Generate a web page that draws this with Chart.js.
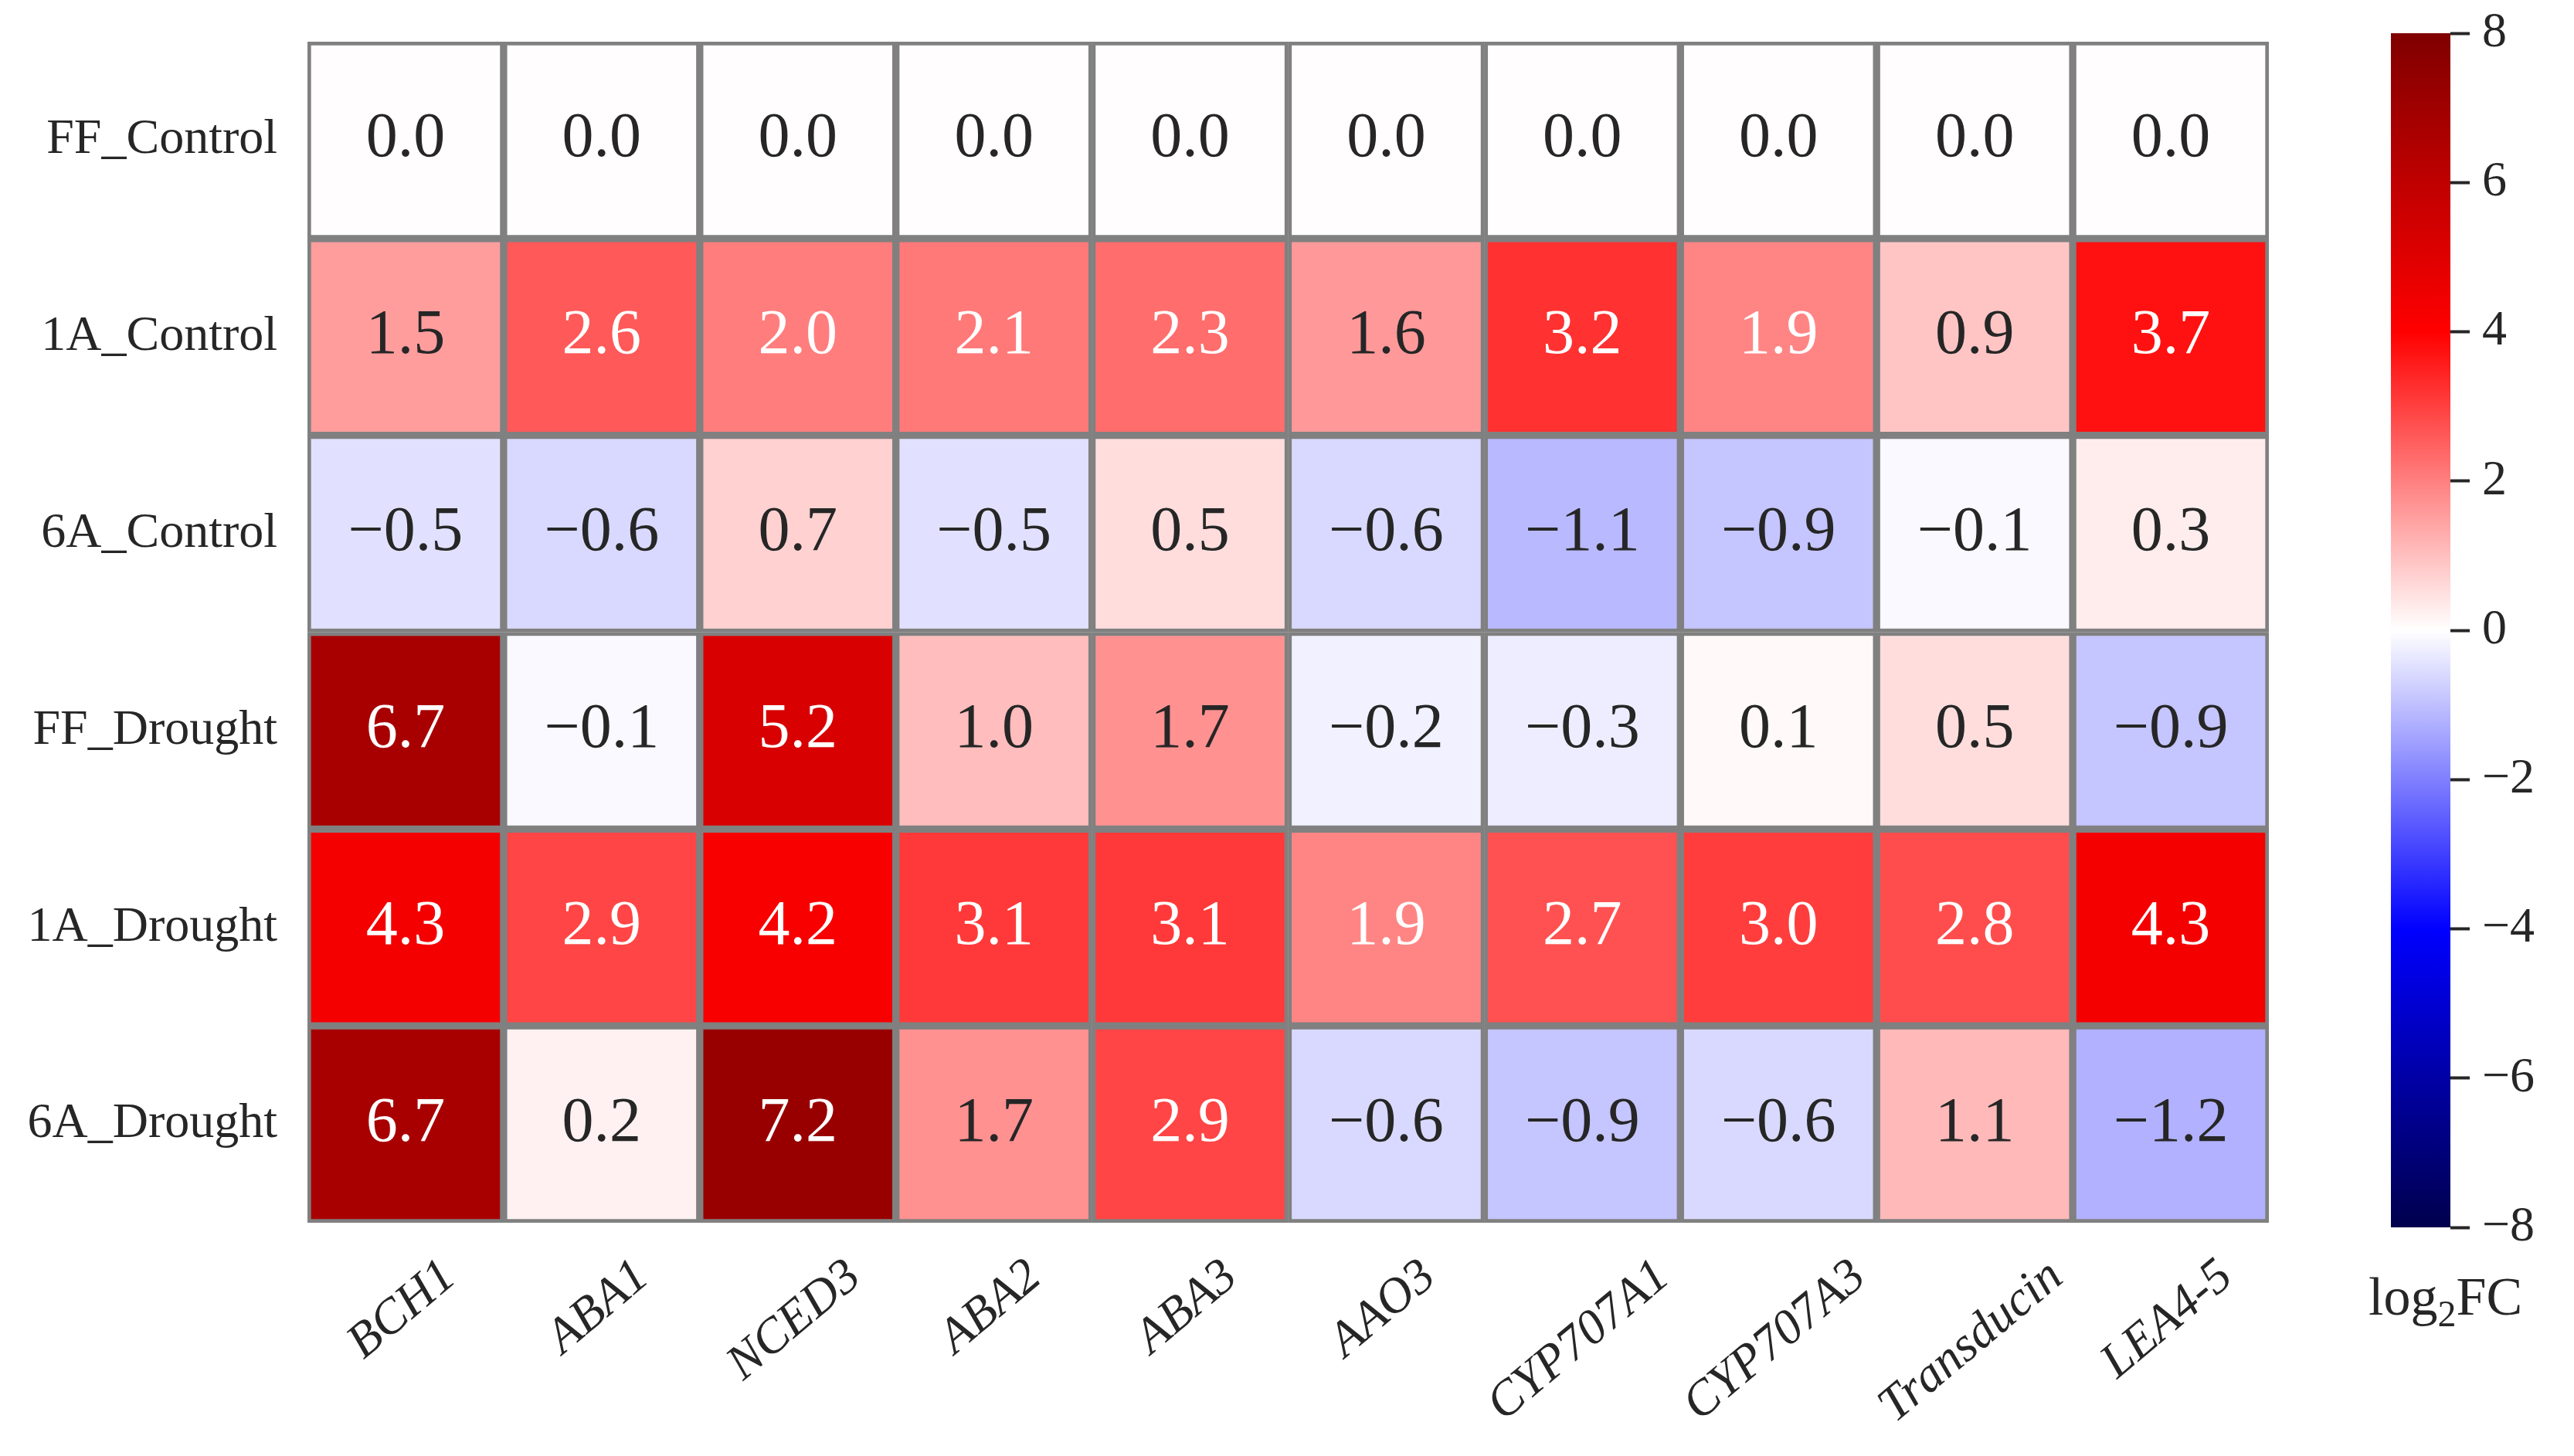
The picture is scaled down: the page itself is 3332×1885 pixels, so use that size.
<!DOCTYPE html>
<html>
<head>
<meta charset="utf-8">
<script src="https://cdn.jsdelivr.net/npm/chart.js@4.4.1/dist/chart.umd.min.js"></script>
<style>
  html, body { margin: 0; padding: 0; background: #ffffff; }
  #wrap { position: relative; width: 3332px; height: 1885px; }
  #main { position: absolute; left: 0; top: 0; }
  #cbar { position: absolute; left: 3000px; top: 0; }
</style>
</head>
<body>
<div id="wrap">
  <canvas id="main" width="3332" height="1885"></canvas>
  <canvas id="cbar" width="332" height="1885"></canvas>
</div>
<script>
// ---------------- data ----------------
const rowLabels = ['FF_Control', '1A_Control', '6A_Control', 'FF_Drought', '1A_Drought', '6A_Drought'];
const geneLabels = ['BCH1', 'ABA1', 'NCED3', 'ABA2', 'ABA3', 'AAO3', 'CYP707A1', 'CYP707A3', 'Transducin', 'LEA4-5'];

const ffControl = [0.0, 0.0, 0.0, 0.0, 0.0, 0.0, 0.0, 0.0, 0.0, 0.0];
const a1Control = [1.5, 2.6, 2.0, 2.1, 2.3, 1.6, 3.2, 1.9, 0.9, 3.7];
const a6Control = [-0.5, -0.6, 0.7, -0.5, 0.5, -0.6, -1.1, -0.9, -0.1, 0.3];
const ffDrought = [6.7, -0.1, 5.2, 1.0, 1.7, -0.2, -0.3, 0.1, 0.5, -0.9];
const a1Drought = [4.3, 2.9, 4.2, 3.1, 3.1, 1.9, 2.7, 3.0, 2.8, 4.3];
const a6Drought = [6.7, 0.2, 7.2, 1.7, 2.9, -0.6, -0.9, -0.6, 1.1, -1.2];

const rowValues = [ffControl, a1Control, a6Control, ffDrought, a1Drought, a6Drought];
const colorbarTicks = [-8, -6, -4, -2, 0, 2, 4, 6, 8];
const vmin = -8, vmax = 8;

// ---------------- colormap (matplotlib "seismic") ----------------
const seismicStops = [
  [0.0, [0, 0, 0.3]],
  [0.25, [0, 0, 1]],
  [0.5, [1, 1, 1]],
  [0.75, [1, 0, 0]],
  [1.0, [0.5, 0, 0]]
];
function seismicRGB(t) {
  const idx = Math.min(255, Math.max(0, Math.floor(t * 256)));
  const s = idx / 255;
  for (let k = 0; k < seismicStops.length - 1; k++) {
    const [a, ca] = seismicStops[k];
    const [b, cb] = seismicStops[k + 1];
    if (s >= a && s <= b) {
      const f = (s - a) / (b - a);
      return [0, 1, 2].map(c => ca[c] + (cb[c] - ca[c]) * f);
    }
  }
  return seismicStops[seismicStops.length - 1][1];
}
function toCss(rgb) {
  return 'rgb(' + rgb.map(c => Math.round(c * 255)).join(',') + ')';
}
function valueRGB(v) { return seismicRGB((v - vmin) / (vmax - vmin)); }
function luminance(rgb) {
  const lin = rgb.map(c => c <= 0.03928 ? c / 12.92 : Math.pow((c + 0.055) / 1.055, 2.4));
  return 0.2126 * lin[0] + 0.7152 * lin[1] + 0.0722 * lin[2];
}
function fmt(v) {
  const s = Math.abs(v).toFixed(1);
  return v < 0 ? '\u2212' + s : s;
}

const TEXT = '#262626';
const SERIF = '"Liberation Serif", "Times New Roman", serif';

// ---------------- main heatmap ----------------
const datasets = rowLabels.map((r, i) => ({
  label: r,
  data: geneLabels.map(() => [i, i + 1]),
  values: rowValues[i],
  backgroundColor: rowValues[i].map(v => toCss(valueRGB(v))),
  borderColor: '#808080',
  borderWidth: 5,
  borderSkipped: false,
  barPercentage: 1.0,
  categoryPercentage: 1.0,
  grouped: false
}));

const annotatePlugin = {
  id: 'annotate',
  afterDatasetsDraw(chart) {
    const ctx = chart.ctx;
    ctx.save();
    ctx.font = '82px ' + SERIF;
    ctx.textAlign = 'center';
    ctx.textBaseline = 'alphabetic';
    chart.data.datasets.forEach((ds, di) => {
      const meta = chart.getDatasetMeta(di);
      meta.data.forEach((el, j) => {
        const v = ds.values[j];
        const lum = luminance(valueRGB(v));
        ctx.fillStyle = lum > 0.408 ? TEXT : '#ffffff';
        const c = el.getCenterPoint();
        ctx.fillText(fmt(v), c.x, c.y + 21);
      });
    });
    ctx.restore();
  },
  afterDraw(chart) {
    const ctx = chart.ctx;
    const xs = chart.scales.x;
    const th = 40 * Math.PI / 180;
    const fs = 64;
    const h = fs * 0.9;
    ctx.save();
    ctx.font = 'italic ' + fs + 'px ' + SERIF;
    ctx.fillStyle = TEXT;
    ctx.textAlign = 'center';
    ctx.textBaseline = 'middle';
    geneLabels.forEach((lab, i) => {
      const x = xs.getPixelForValue(i);
      const w = ctx.measureText(lab).width;
      const bh = w * Math.sin(th) + h * Math.cos(th);
      const cy = chart.chartArea.bottom + 40 + bh / 2;
      ctx.save();
      ctx.translate(x - 4, cy);
      ctx.rotate(-th);
      ctx.fillText(lab, 0, 0);
      ctx.restore();
    });
    ctx.restore();
  }
};

new Chart(document.getElementById('main'), {
  type: 'bar',
  data: { labels: geneLabels, datasets },
  options: {
    responsive: false,
    animation: false,
    devicePixelRatio: 1,
    layout: { padding: { left: 0, top: 54, right: 395, bottom: 0 } },
    plugins: { legend: { display: false }, tooltip: { enabled: false } },
    scales: {
      x: {
        type: 'category',
        offset: true,
        grid: { display: false, drawTicks: false },
        border: { display: false },
        ticks: { display: false },
        afterFit(axis) {
          axis.height = 1885 - 1583;
          axis.paddingLeft = 0; axis.paddingRight = 0;
        }
      },
      y: {
        type: 'linear',
        min: 0,
        max: rowLabels.length,
        reverse: true,
        grid: { display: false, drawTicks: false },
        border: { display: false },
        afterBuildTicks(axis) {
          axis.ticks = rowLabels.map((r, i) => ({ value: i + 0.5 }));
        },
        ticks: {
          autoSkip: false,
          padding: 39,
          color: TEXT,
          font: { family: SERIF, size: 64 },
          callback: (value) => rowLabels[Math.floor(value)]
        },
        afterFit(axis) {
          axis.width = 398;
          axis.paddingTop = 0; axis.paddingBottom = 0;
        }
      }
    }
  },
  plugins: [annotatePlugin]
});

// ---------------- colorbar ----------------
const cbLabelPlugin = {
  id: 'cbLabel',
  afterDraw(chart) {
    const ctx = chart.ctx;
    ctx.save();
    ctx.fillStyle = TEXT;
    ctx.textBaseline = 'alphabetic';
    ctx.textAlign = 'left';
    let x = 66;
    const y = 1702;
    ctx.font = '70px ' + SERIF;
    ctx.fillText('log', x, y);
    x += ctx.measureText('log').width;
    ctx.font = '48px ' + SERIF;
    ctx.fillText('2', x, y + 15);
    x += ctx.measureText('2').width;
    ctx.font = '70px ' + SERIF;
    ctx.fillText('FC', x, y);
    ctx.restore();
  }
};

new Chart(document.getElementById('cbar'), {
  type: 'bar',
  data: {
    labels: ['cb'],
    datasets: [{
      data: [[vmin, vmax]],
      backgroundColor(context) {
        const chart = context.chart;
        const area = chart.chartArea;
        if (!area) return '#ffffff';
        const ys = chart.scales.y;
        const g = chart.ctx.createLinearGradient(0, ys.getPixelForValue(vmin), 0, ys.getPixelForValue(vmax));
        seismicStops.forEach(([t, c]) => g.addColorStop(t, toCss(c)));
        return g;
      },
      borderWidth: 0,
      barPercentage: 1.0,
      categoryPercentage: 1.0
    }]
  },
  options: {
    responsive: false,
    animation: false,
    devicePixelRatio: 1,
    layout: { padding: { left: 95, top: 43, right: 0, bottom: 1885 - 1589 } },
    plugins: { legend: { display: false }, tooltip: { enabled: false } },
    scales: {
      x: { display: false },
      y: {
        type: 'linear',
        position: 'right',
        min: vmin,
        max: vmax,
        grid: {
          display: true,
          drawOnChartArea: false,
          drawTicks: true,
          tickLength: 25,
          tickWidth: 4,
          tickColor: TEXT
        },
        border: { display: false },
        afterBuildTicks(axis) {
          axis.ticks = colorbarTicks.map(v => ({ value: v }));
        },
        ticks: {
          padding: 16,
          color: TEXT,
          font: { family: SERIF, size: 64 },
          callback: (v) => v < 0 ? '\u2212' + Math.abs(v) : String(v)
        },
        afterFit(axis) {
          axis.width = 332 - 172;
          axis.paddingTop = 0; axis.paddingBottom = 0;
        }
      }
    }
  },
  plugins: [cbLabelPlugin]
});
</script>
</body>
</html>
